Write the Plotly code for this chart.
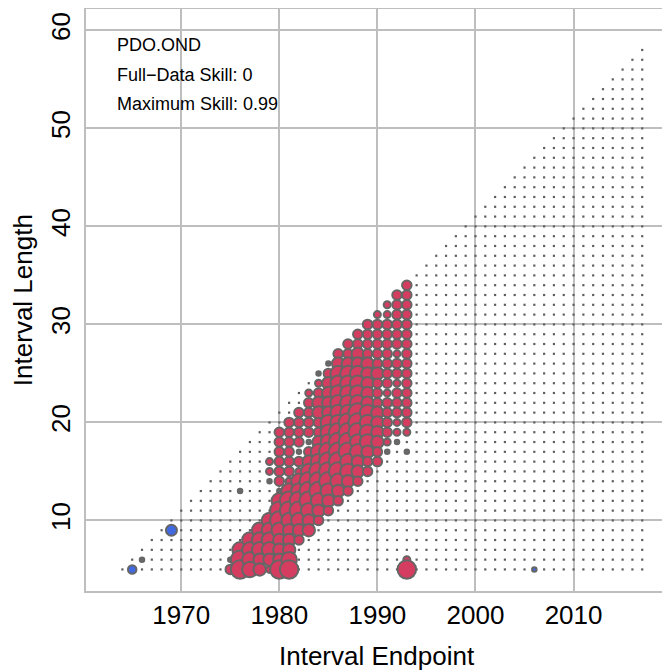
import plotly.graph_objects as go

# ---- grid of tested intervals (endpoint year, interval length) ----
first_end = 1964
last_end = 2017
min_len = 5
earliest_start = 1960

# ---- significant / notable intervals, read column by column ----
# each string starts at length 5; '.' = none, 'g' = grey (weak) dot,
# '1'..'5' = red circle, growing with skill
circ_end = [1975, 1976, 1977, 1978, 1979, 1980, 1981, 1982, 1983, 1984,
            1985, 1986, 1987, 1988, 1989, 1990, 1991, 1992, 1993]
circ_codes = [
    "2g",
    "554.....g",
    "4444",
    "33444",
    "134444...g11",
    "53334554g222222",
    "5433345541222222",
    "...234554412g2222",
    "....334555432g22221",
    ".....234555443223321g",
    "......234555544433332g",
    ".......2345555544444432",
    "........2344555544444322",
    ".........2334455544443322",
    "..........2234444333332222",
    "...........2233332223222221",
    "............g122221222222211",
    ".............g112221221222222",
    "51..........g.1222222222222222",
]

# negative-skill intervals (blue) and extra grey dots
blue_end = [1965, 1969, 2006]
blue_len = [5, 9, 5]
blue_code = ["b2", "b3", "bs"]
grey_end = [1966]
grey_len = [6]

info_lines = ["PDO.OND", "Full\u2212Data Skill: 0", "Maximum Skill: 0.99"]
x_title = "Interval Endpoint"
y_title = "Interval Length"

size_of = {"g": 4.5, "1": 7, "2": 9.5, "3": 12.5, "4": 15.5, "5": 18.5,
           "b2": 8.5, "b3": 11, "bs": 4.5}
RED = "#D43D60"
BLUE = "#4169E1"
GREY = "#6A6A6A"
EDGE = "#666666"

# tiny dots for every tested interval
dot_x, dot_y = [], []
for e in range(first_end, last_end + 1):
    for L in range(min_len, e - earliest_start + 2):
        dot_x.append(e)
        dot_y.append(L)

cx, cy, cs, cc = [], [], [], []
for e, L, c in zip(blue_end[:2], blue_len[:2], blue_code[:2]):
    cx.append(e); cy.append(L); cs.append(size_of[c]); cc.append(BLUE)
for e, L in zip(grey_end, grey_len):
    cx.append(e); cy.append(L); cs.append(size_of["g"]); cc.append(GREY)
for e, code in zip(circ_end, circ_codes):
    for i in range(len(code) - 1, -1, -1):
        ch = code[i]
        if ch == ".":
            continue
        cx.append(e); cy.append(min_len + i)
        cs.append(size_of[ch])
        cc.append(GREY if ch == "g" else RED)
cx.append(blue_end[2]); cy.append(blue_len[2]); cs.append(size_of[blue_code[2]]); cc.append(BLUE)

fig = go.Figure()
fig.add_trace(go.Scatter(x=dot_x, y=dot_y, mode="markers",
                         marker=dict(symbol="square", size=2.2, color="#5E5E5E", line=dict(width=0)),
                         hoverinfo="skip", showlegend=False))
fig.add_trace(go.Scatter(x=cx, y=cy, mode="markers",
                         marker=dict(size=cs, color=cc, line=dict(color=EDGE, width=2), opacity=1),
                         showlegend=False))

FONT = "Liberation Sans, Arial, Helvetica, sans-serif"
# page body has an 8px margin: the figure is sized/offset to compensate
ys = [0.9375, 0.887, 0.837]
for t, yv in zip(info_lines, ys):
    fig.add_annotation(x=0.049, y=yv, xref="paper", yref="paper", text=t, showarrow=False,
                       xanchor="left", yanchor="middle", font=dict(family=FONT, size=18, color="#000000"))
fig.add_annotation(x=0.5, y=-0.1117, xref="paper", yref="paper", text=x_title, showarrow=False,
                   xanchor="center", yanchor="middle", font=dict(family=FONT, size=26, color="#000000"))
fig.add_annotation(x=-0.108, y=0.5, xref="paper", yref="paper", text=y_title, showarrow=False,
                   textangle=-90, xanchor="center", yanchor="middle",
                   font=dict(family=FONT, size=26, color="#000000"))

fig.update_layout(
    width=662, height=664,
    margin=dict(l=78, r=2, t=1, b=81, autoexpand=False),
    paper_bgcolor="white", plot_bgcolor="white",
    font=dict(family=FONT, color="#000000"),
)
fig.update_xaxes(range=[1960.29, 2019.63], tickvals=[1970, 1980, 1990, 2000, 2010],
                 showgrid=True, gridcolor="#BEBEBE", gridwidth=2, zeroline=False,
                 showline=True, mirror=True, linecolor="#BEBEBE", linewidth=2,
                 ticks="", tickfont=dict(size=26), ticklabelstandoff=0, automargin=False)
fig.update_yaxes(range=[2.80, 62.18], tickvals=[10, 20, 30, 40, 50, 60],
                 showgrid=True, gridcolor="#BEBEBE", gridwidth=2, zeroline=False,
                 showline=True, mirror=True, linecolor="#BEBEBE", linewidth=2,
                 ticks="", tickangle=-90, tickfont=dict(size=26), ticklabelstandoff=4,
                 automargin=False)

fig.write_html("out.html")
